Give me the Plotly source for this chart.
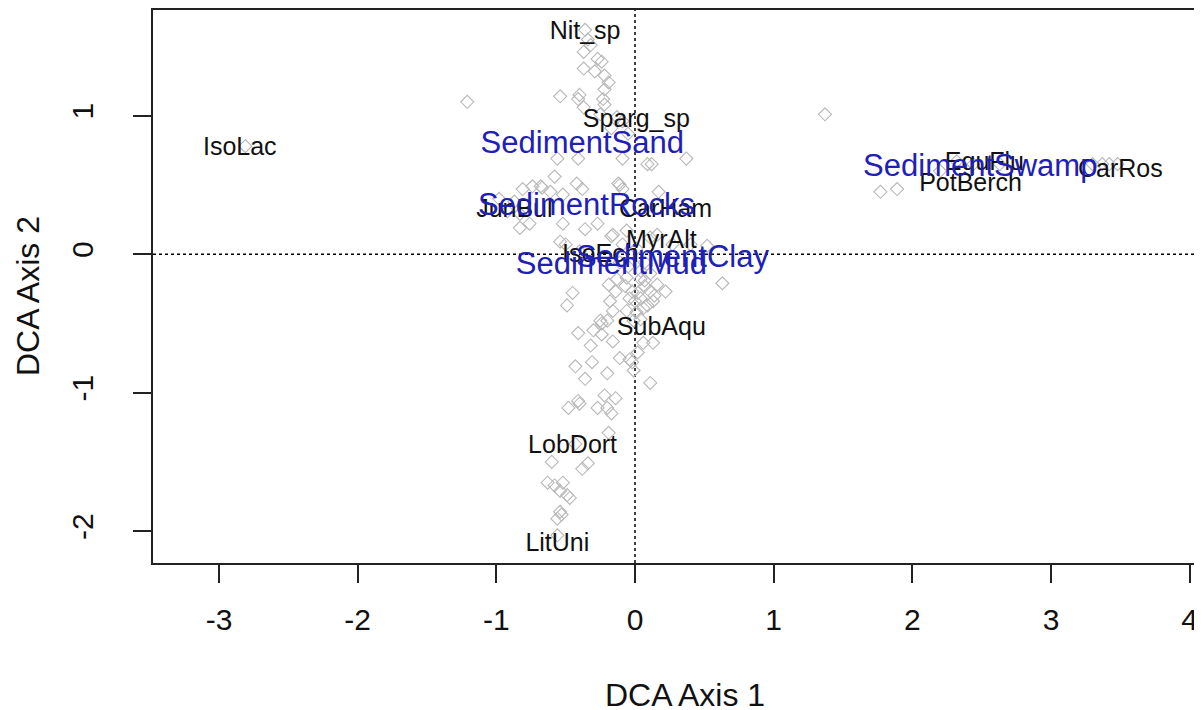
import plotly.graph_objects as go

# Site scores (DCA axis 1, DCA axis 2)
site_x = [-0.36, -0.34, -0.32, -0.37, -0.27, -0.24, -0.37, -0.29, -0.22, -0.19, -0.22,
          -0.54, -0.40, -0.41, -0.23, -0.37, -0.22, -1.21, -0.25, -0.13, -0.09, -0.05, -0.17,
          -0.56, -0.41, -0.09, 0.09, 0.12, 0.37, -0.58, -0.42, -0.11, -0.68, -0.38, -0.74,
          -0.67, -0.61, -0.52, -0.81, -0.12, -0.09, 0.17, -0.98, -0.87, -0.92, -0.83, -0.83,
          -0.76, -0.52, -0.36, -0.27, -0.16, -0.06, 0.11, -0.54, -0.50, -0.09, 0.01, -0.40,
          -0.17, 0.16, 0.27, 0.40, 0.52, 0.63, -0.19, -0.13, -0.06, 0.04, 0.11, 0.16, 0.22,
          -0.45, -0.49, -0.41, -0.20, -0.16, -0.06, 0.04, 0.06, 0.13, -0.04, -0.25, -0.30,
          -0.02, 0.02, 0.07, -0.05, -0.11, 0.07, -0.01, 0.01, -0.14, -0.18, 0.09,
          0.04, 0.07, 0.11, 0.14, 0.00, 0.04, -0.07,
          -0.24, -0.24, -0.16, 0.06, 0.13, -0.32, 0.02, -0.11, -0.04, -0.02, -0.31, -0.43,
          -0.20, -0.36, -0.01, 0.11, -0.22, -0.14, -0.41, -0.48, -0.27, -0.20, -0.17, -0.40,
          -0.19, -0.43, -0.60, -0.38, -0.34, -0.63, -0.58, -0.52, -0.54, -0.49, -0.47, -0.53,
          -0.56, -0.54, -0.56, -2.81,
          1.37, 1.77, 1.89, 2.32, 2.44, 2.63, 3.30, 3.37, 3.42, 3.48, 2.20]
site_y = [1.62, 1.55, 1.51, 1.46, 1.41, 1.39, 1.34, 1.32, 1.29, 1.24, 1.19,
          1.14, 1.15, 1.12, 1.12, 1.06, 1.08, 1.10, 1.01, 0.99, 0.96, 0.87, 0.91,
          0.69, 0.69, 0.69, 0.65, 0.65, 0.69, 0.56, 0.51, 0.50, 0.49, 0.47, 0.49,
          0.48, 0.45, 0.43, 0.47, 0.51, 0.47, 0.45, 0.40, 0.38, 0.31, 0.29, 0.19,
          0.22, 0.22, 0.18, 0.22, 0.14, 0.17, 0.12, 0.09, 0.07, 0.07, 0.04, 0.02,
          0.13, 0.14, 0.07, 0.07, 0.06, -0.21, -0.22, -0.18, -0.17, -0.18, -0.14, -0.22, -0.27,
          -0.28, -0.37, -0.57, -0.48, -0.41, -0.41, -0.32, -0.39, -0.34, -0.32, -0.48, -0.55,
          -0.27, -0.28, -0.23, -0.09, -0.06, -0.06, -0.48, -0.42, -0.27, -0.34, -0.37,
          -0.12, -0.19, -0.27, -0.30, -0.34, -0.47, -0.23,
          -0.50, -0.58, -0.63, -0.64, -0.64, -0.66, -0.71, -0.75, -0.76, -0.78, -0.78, -0.81,
          -0.86, -0.90, -0.84, -0.93, -1.02, -1.04, -1.06, -1.11, -1.11, -1.11, -1.15, -1.08,
          -1.29, -1.37, -1.50, -1.55, -1.51, -1.65, -1.67, -1.65, -1.71, -1.74, -1.76, -1.88,
          -1.91, -1.86, -2.03, 0.78,
          1.01, 0.45, 0.47, 0.67, 0.65, 0.65, 0.65, 0.65, 0.65, 0.65, 0.60]

# Species scores
species_names = ["Nit_sp", "Sparg_sp", "IsoLac", "JunBul", "CarHam", "MyrAlt", "IsoEch",
                 "SubAqu", "LobDort", "LitUni", "EquFlu", "PotBerch", "CarRos"]
species_x = [-0.36, 0.01, -2.85, -0.87, 0.22, 0.19, -0.25, 0.19, -0.45, -0.56, 2.52, 2.42, 3.50]
species_y = [1.60, 0.96, 0.76, 0.31, 0.31, 0.09, -0.01, -0.54, -1.39, -2.10, 0.65, 0.50, 0.60]

# Environmental factor centroids
env_names = ["SedimentSand", "SedimentRocks", "SedimentMud", "SedimentClay", "SedimentSwamp"]
env_x = [-0.38, -0.35, -0.17, 0.27, 2.49]
env_y = [0.79, 0.34, -0.09, -0.04, 0.62]

x_ticks = [-3, -2, -1, 0, 1, 2, 3, 4]
y_ticks = [-2, -1, 0, 1]

FONT = "Liberation Sans, Arial, sans-serif"

fig = go.Figure()
fig.add_trace(go.Scatter(
    x=site_x, y=site_y, mode="markers",
    marker=dict(symbol="diamond-open", size=10, color="#b8b8b8", line=dict(width=1.1, color="#b8b8b8")),
    hoverinfo="skip", showlegend=False))
fig.add_trace(go.Scatter(
    x=species_x, y=species_y, mode="text", text=species_names,
    textposition="middle center",
    textfont=dict(family=FONT, size=25, color="#111111"),
    hoverinfo="skip", showlegend=False))
fig.add_trace(go.Scatter(
    x=env_x, y=env_y, mode="text", text=env_names,
    textposition="middle center",
    textfont=dict(family=FONT, size=31, color="#2020b8"),
    hoverinfo="skip", showlegend=False))

fig.add_shape(type="line", xref="x", yref="paper", x0=0, x1=0, y0=0, y1=1,
              line=dict(color="black", width=1.5, dash="3px,3px"), layer="below")
fig.add_shape(type="line", xref="paper", yref="y", x0=0, x1=1, y0=0, y1=0,
              line=dict(color="black", width=1.5, dash="3px,3px"), layer="below")

axis_common = dict(
    showgrid=False, zeroline=False, showline=True, linecolor="#222222", linewidth=1.5,
    ticks="outside", ticklen=18, tickwidth=1.5, tickcolor="#222222",
    tickfont=dict(family=FONT, size=30, color="#111111"),
)
fig.update_xaxes(range=[-3.476, 4.089], tickvals=x_ticks, ticktext=[str(v) for v in x_ticks],
                 mirror=True, ticklabelstandoff=11, **axis_common)
fig.update_yaxes(range=[-2.230, 1.763], tickvals=y_ticks, ticktext=[str(v) for v in y_ticks],
                 tickangle=-90, ticklabelstandoff=28, **axis_common)

fig.add_annotation(text="DCA Axis 1", xref="x", yref="paper", x=0.36, y=-0.238,
                   showarrow=False, xanchor="center", yanchor="middle",
                   font=dict(family=FONT, size=32, color="#111111"))
fig.add_annotation(text="DCA Axis 2", xref="paper", yref="paper", x=-0.119, y=0.483,
                   showarrow=False, xanchor="center", yanchor="middle", textangle=-90,
                   font=dict(family=FONT, size=32, color="#111111"))

# The page body adds an 8px offset, so the figure is sized to fit the window
fig.update_layout(
    width=1194, height=702,
    margin=dict(l=145, r=0, t=0, b=147),
    paper_bgcolor="white", plot_bgcolor="white",
)
fig.write_html("out.html")
